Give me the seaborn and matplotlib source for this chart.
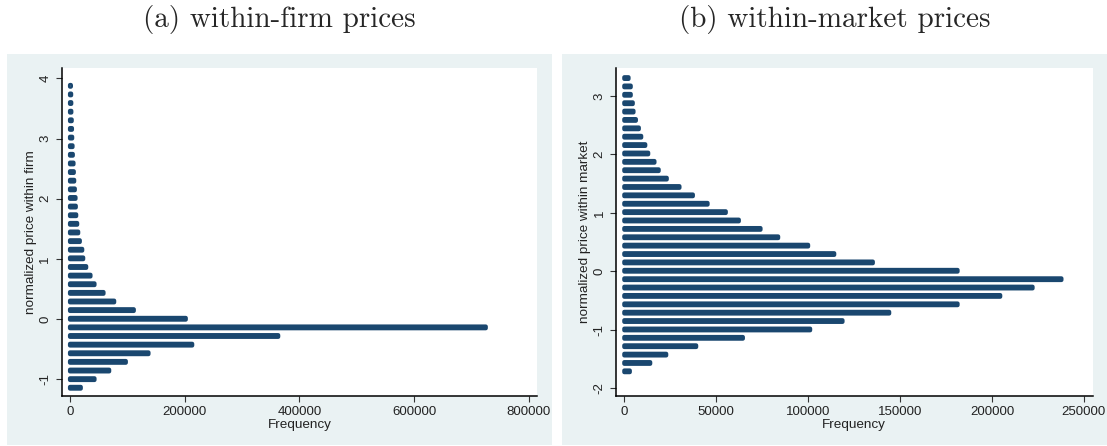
import matplotlib
matplotlib.use("Agg")
import matplotlib.pyplot as plt
from matplotlib.patches import Rectangle
import seaborn as sns

# bin centres and frequencies, bottom bin first
firm_mid = [-1.139, -0.996, -0.853, -0.709, -0.566, -0.423, -0.279, -0.136, 0.007, 0.151,
            0.294, 0.437, 0.581, 0.724, 0.867, 1.011, 1.154, 1.297, 1.441, 1.584,
            1.727, 1.871, 2.014, 2.157, 2.301, 2.444, 2.587, 2.731, 2.874, 3.017,
            3.161, 3.304, 3.447, 3.591, 3.734, 3.877]
firm_freq = [18800, 42700, 68300, 97300, 136800, 213000, 362900, 724700, 201800, 111200,
             77000, 58400, 42700, 35700, 28200, 23000, 21300, 17100, 14300, 12500,
             10800, 10100, 9600, 8400, 7300, 6600, 6100, 4900, 4400, 3800,
             3400, 3000, 2300, 2200, 2000, 1500]

market_mid = [-1.709, -1.566, -1.423, -1.279, -1.136, -0.993, -0.849, -0.706, -0.563, -0.419,
              -0.276, -0.133, 0.011, 0.154, 0.297, 0.441, 0.584, 0.727, 0.871, 1.014,
              1.157, 1.301, 1.444, 1.587, 1.731, 1.874, 2.017, 2.161, 2.304, 2.447,
              2.591, 2.734, 2.877, 3.021, 3.164, 3.307]
market_freq = [3000, 14100, 22800, 39100, 64500, 101100, 118700, 144100, 181300, 204500,
               222100, 237800, 181300, 135200, 114200, 100000, 83700, 74100, 62300, 55200,
               45300, 37300, 30000, 23100, 18700, 16400, 13000, 11400, 9200, 7900,
               6300, 5000, 4600, 3500, 3500, 2300]

firm_xticks = [0, 200000, 400000, 600000, 800000]
market_xticks = [0, 50000, 100000, 150000, 200000, 250000]
firm_yticks = [-1, 0, 1, 2, 3, 4]
market_yticks = [-2, -1, 0, 1, 2, 3]

titles = ["(a) within-firm prices", "(b) within-market prices"]
ylabels = ["normalized price within firm", "normalized price within market"]

navy = "#1a476f"
panel_bg = "#eaf2f3"

sns.set_style("white")
plt.rcParams["font.family"] = ["Liberation Sans", "DejaVu Sans"]
plt.rcParams["axes.unicode_minus"] = False

fig = plt.figure(figsize=(11.07, 4.46), dpi=100)
W, H = 1107, 446

# light panel backgrounds (graph region), behind the axes
for x0 in (6.7, 562):
    fig.patches.append(Rectangle((x0 / W, 1 / H), 545 / W, 391 / H, transform=fig.transFigure,
                                 facecolor=panel_bg, edgecolor="none", zorder=-5))

ax1 = fig.add_axes([61.7 / W, 1 - 396 / H, 475.6 / W, 327.7 / H])
ax2 = fig.add_axes([616 / W, 1 - 396 / H, 476.5 / W, 327.7 / H])

setup = [
    (ax1, firm_mid, firm_freq, firm_xticks, firm_yticks, (-14470, 814500), (-1.276, 4.168)),
    (ax2, market_mid, market_freq, market_xticks, market_yticks, (-4515, 254700), (-2.131, 3.474)),
]

for i, (ax, mid, freq, xt, yt, xlim, ylim) in enumerate(setup):
    sns.barplot(x=freq, y=mid, orient="h", native_scale=True, width=0.2,
                color=navy, saturation=1, errorbar=None, ax=ax)
    for p in ax.patches:
        p.set_edgecolor(navy)
        p.set_linewidth(3.0)
        p.set_joinstyle("round")
        p.set_snap(False)
    ax.set_facecolor("white")
    ax.set_xlim(*xlim)
    ax.set_ylim(*ylim)
    ax.set_xticks(xt)
    ax.set_xticklabels([str(v) for v in xt])
    ax.set_yticks(yt)
    ax.set_yticklabels([str(v) for v in yt], rotation=90, va="center")
    ax.tick_params(axis="both", bottom=True, left=True, length=4.5, width=0.8,
                   color="#333333", labelsize=9.5, labelcolor="#222222", pad=3)
    for s in ["top", "right"]:
        ax.spines[s].set_visible(False)
    for s in ["left", "bottom"]:
        ax.spines[s].set_color("black")
        ax.spines[s].set_linewidth(1.1)
    ax.set_xlabel("Frequency", fontsize=9.7, color="#222222")
    ax.set_ylabel(ylabels[i], fontsize=9.7, color="#222222", va="center")
    ax.xaxis.set_label_coords(0.5, -0.071)
    ax.yaxis.set_label_coords(-0.0656, 0.5)

fig.text(279.2 / W, 1 - 26.7 / H, titles[0], family="cmr10", fontsize=21,
         ha="center", va="baseline")
fig.text(834.5 / W, 1 - 26.7 / H, titles[1], family="cmr10", fontsize=21,
         ha="center", va="baseline")

fig.savefig("out.png", dpi=100, facecolor="white")
